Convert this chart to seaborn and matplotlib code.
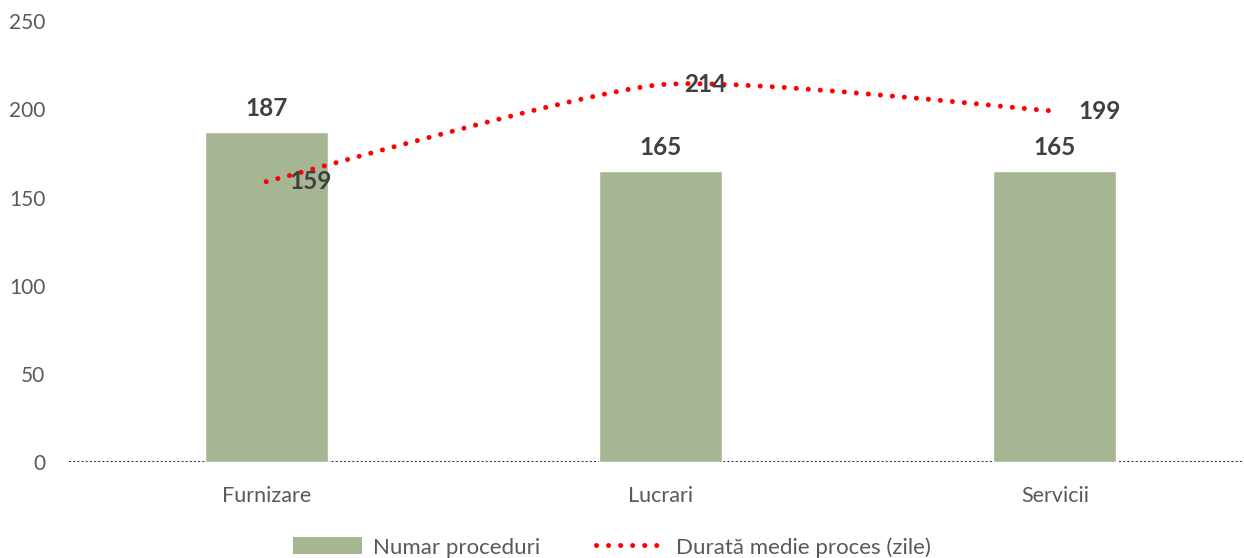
import matplotlib
matplotlib.use("Agg")
import matplotlib.pyplot as plt
from matplotlib.path import Path
from matplotlib.patches import PathPatch, Patch
from matplotlib.lines import Line2D
import seaborn as sns
import numpy as np

# date
categorii = ["Furnizare", "Lucrari", "Servicii"]
numar_proceduri = [187, 165, 165]
durata_medie = [159, 214, 199]
yticks = [0, 50, 100, 150, 200, 250]

BAR_COLOR = "#a6b592"
LINE_COLOR = "#ff0000"
LABEL_COLOR = "#404040"
TICK_COLOR = "#595959"

sns.set_theme(style="white")
plt.rcParams["font.family"] = ["Lato", "DejaVu Sans"]

fig = plt.figure(figsize=(12.44, 5.58), dpi=100)
ax = fig.add_axes([69 / 1244, 0.172, 1183 / 1244, 0.79])

sns.barplot(x=categorii, y=numar_proceduri, color=BAR_COLOR, width=0.312,
            saturation=1, ax=ax, zorder=2)

# linie netezita (bezier, ca in Excel)
pts = np.column_stack([np.arange(len(durata_medie)), durata_medie]).astype(float)
verts = [tuple(pts[0])]
codes = [Path.MOVETO]
n = len(pts)
k = 1 / 10
for i in range(n - 1):
    p_prev = pts[i - 1] if i > 0 else pts[i]
    p_next2 = pts[i + 2] if i + 2 < n else pts[i + 1]
    c1 = pts[i] + (pts[i + 1] - p_prev) * k
    c2 = pts[i + 1] - (p_next2 - pts[i]) * k
    verts += [tuple(c1), tuple(c2), tuple(pts[i + 1])]
    codes += [Path.CURVE4] * 3
dot_style = (0, (0.01, 2.4))
ax.add_patch(PathPatch(Path(verts, codes), fill=False, edgecolor=LINE_COLOR,
                       linewidth=3.6, linestyle=dot_style, capstyle="round", zorder=3))

# etichete
for i, v in enumerate(numar_proceduri):
    ax.annotate(str(v), (i, v), xytext=(0, 9), textcoords="offset points",
                ha="center", va="bottom", fontsize=17.5, fontweight="bold",
                color=LABEL_COLOR, zorder=4)
for i, v in enumerate(durata_medie):
    ax.annotate(str(v), (i, v), xytext=(17, 0), textcoords="offset points",
                ha="left", va="center", fontsize=17.5, fontweight="bold",
                color=LABEL_COLOR, zorder=4)

ax.axhline(0, color="#203864", linewidth=1.5, linestyle=(0, (1, 1)), zorder=1)

ax.set_ylim(0, 250)
ax.set_xlim(-0.5, 2.5)
ax.set_yticks(yticks)
ax.tick_params(axis="y", length=0, labelsize=15, colors=TICK_COLOR, pad=17)
ax.tick_params(axis="x", length=0, labelsize=15.5, colors=TICK_COLOR, pad=17)
ax.set_xlabel("")
ax.set_ylabel("")
sns.despine(ax=ax, left=True, bottom=True)
ax.grid(False)

handles = [
    Patch(facecolor=BAR_COLOR, edgecolor="none", label="Numar proceduri"),
    Line2D([0], [0], color=LINE_COLOR, linewidth=3.6, linestyle=dot_style,
           dash_capstyle="round", label="Durată medie proces (zile)"),
]
fig.legend(handles=handles, loc="lower center", bbox_to_anchor=(0.4916, -0.035),
           ncol=2, frameon=False, fontsize=16, labelcolor=TICK_COLOR,
           handlelength=3.1, handleheight=0.8, columnspacing=2.5, handletextpad=0.5)

fig.savefig("out.png", dpi=100)
